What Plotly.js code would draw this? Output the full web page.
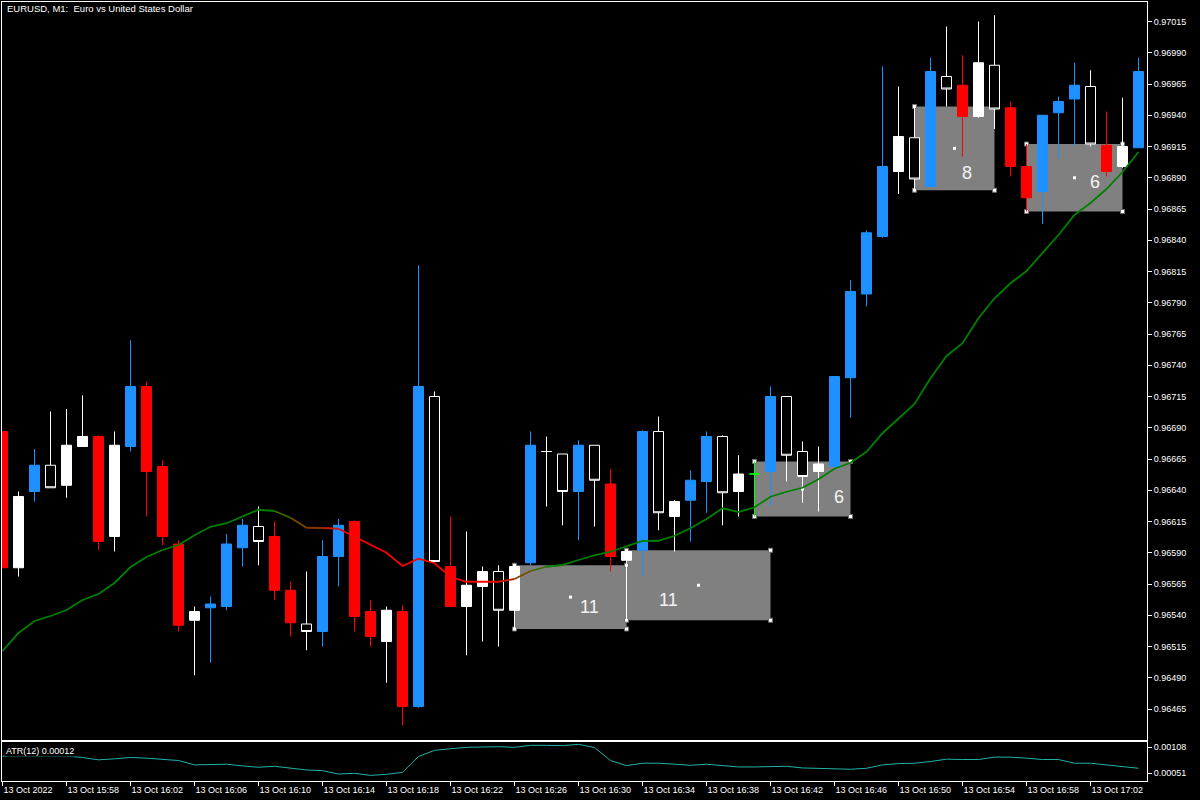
<!DOCTYPE html>
<html><head><meta charset="utf-8">
<script src="https://cdn.plot.ly/plotly-3.0.1.min.js"></script>
<style>html,body{margin:0;padding:0;background:#000;}#chart{width:1200px;height:800px;}</style>
</head><body><div id="chart"></div>
<script>
// ---- data ----
const times = ['15:54','15:55','15:56','15:57','15:58','15:59','16:00','16:01','16:02','16:03','16:04','16:05',
'16:06','16:07','16:08','16:09','16:10','16:11','16:12','16:13','16:14','16:15','16:16','16:17',
'16:18','16:19','16:20','16:21','16:22','16:23','16:24','16:25','16:26','16:27','16:28','16:29',
'16:30','16:31','16:32','16:33','16:34','16:35','16:36','16:37','16:38','16:39','16:40','16:41',
'16:42','16:43','16:44','16:45','16:46','16:47','16:48','16:49','16:50','16:51','16:52','16:53',
'16:54','16:55','16:56','16:57','16:58','16:59','17:00','17:01','17:02','17:03','17:04','17:05'];
const open = [0.96687,0.96578,0.96639,0.96660,0.96644,0.96675,0.96683,0.96603,0.96675,0.96723,0.96659,0.96597,
0.96536,0.96546,0.96547,0.96594,0.96611,0.96603,0.96560,0.96533,0.96527,0.96587,0.96615,0.96543,
0.96519,0.96543,0.96467,0.96715,0.96579,0.96547,0.96563,0.96575,0.96544,0.96582,0.96671,0.96669,
0.96639,0.96676,0.96645,0.96584,0.96592,0.96687,0.96619,0.96632,0.96647,0.96683,0.96639,0.96653,
0.96655,0.96715,0.96671,0.96655,0.96659,0.96730,0.96797,0.96843,0.96895,0.96922,0.96883,0.96971,
0.96964,0.96939,0.96980,0.96946,0.96899,0.96879,0.96942,0.96953,0.96963,0.96916,0.96899,0.96914];
const high = [0.96687,0.96639,0.96673,0.96703,0.96705,0.96716,0.96684,0.96687,0.96760,0.96727,0.96664,0.96600,
0.96547,0.96555,0.96605,0.96617,0.96627,0.96615,0.96567,0.96575,0.96600,0.96617,0.96616,0.96552,
0.96547,0.96548,0.96820,0.96719,0.96619,0.96607,0.96579,0.96580,0.96580,0.96687,0.96683,0.96669,
0.96680,0.96676,0.96657,0.96592,0.96688,0.96699,0.96632,0.96656,0.96687,0.96684,0.96668,0.96663,
0.96723,0.96715,0.96679,0.96675,0.96731,0.96808,0.96848,0.96979,0.96963,0.96947,0.96986,0.97011,
0.96988,0.97015,0.97020,0.96951,0.96917,0.96940,0.96955,0.96982,0.96976,0.96943,0.96954,0.96986];
const low = [0.96578,0.96571,0.96631,0.96642,0.96634,0.96675,0.96592,0.96591,0.96671,0.96619,0.96596,0.96527,
0.96492,0.96502,0.96544,0.96579,0.96580,0.96552,0.96523,0.96512,0.96515,0.96563,0.96527,0.96515,
0.96486,0.96452,0.96466,0.96583,0.96547,0.96508,0.96519,0.96515,0.96529,0.96580,0.96627,0.96612,
0.96600,0.96611,0.96575,0.96536,0.96571,0.96608,0.96591,0.96599,0.96622,0.96612,0.96619,0.96619,
0.96627,0.96647,0.96630,0.96623,0.96659,0.96698,0.96787,0.96842,0.96877,0.96880,0.96883,0.96947,
0.96907,0.96938,0.96929,0.96891,0.96863,0.96853,0.96905,0.96915,0.96915,0.96891,0.96898,0.96914];
const close = [0.96578,0.96635,0.96660,0.96642,0.96676,0.96683,0.96599,0.96676,0.96723,0.96655,0.96603,0.96532,
0.96543,0.96549,0.96597,0.96612,0.96599,0.96560,0.96534,0.96527,0.96587,0.96612,0.96539,0.96523,
0.96544,0.96467,0.96723,0.96583,0.96547,0.96564,0.96575,0.96544,0.96579,0.96676,0.96671,0.96639,
0.96676,0.96648,0.96587,0.96591,0.96687,0.96622,0.96631,0.96648,0.96683,0.96638,0.96653,0.96653,
0.96715,0.96668,0.96651,0.96661,0.96731,0.96799,0.96846,0.96899,0.96923,0.96889,0.96975,0.96961,
0.96939,0.96982,0.96945,0.96899,0.96874,0.96940,0.96951,0.96964,0.96917,0.96895,0.96915,0.96975];
const candleStyle = ['red','white','blue','hollow','white','white','red','white','blue','red','red','red',
'white','blue','blue','blue','hollow','red','red','hollow','blue','blue','red','red',
'white','red','blue','hollow','red','white','white','hollow','white','blue','white','hollow',
'blue','hollow','red','white','blue','hollow','white','blue','blue','hollow','white','lime',
'blue','hollow','hollow','white','blue','blue','blue','blue','white','hollow','blue','hollow',
'red','white','hollow','red','red','blue','blue','blue','hollow','red','white','blue'];
const ma = [0.965114,0.965258,0.965354,0.965394,0.965442,0.965522,0.965570,0.965658,0.965786,0.965866,0.965922,0.965962,
0.966040,0.966108,0.966136,0.966188,0.966244,0.966234,0.966180,0.966100,0.966098,0.966092,0.966028,0.965960,
0.965900,0.965794,0.965852,0.965816,0.965708,0.965668,0.965666,0.965668,0.965690,0.965754,0.965788,0.965802,
0.965842,0.965880,0.965908,0.965948,0.965994,0.965996,0.966036,0.966096,0.966170,0.966256,0.966226,0.966264,
0.966348,0.966388,0.966420,0.966488,0.966572,0.966620,0.966708,0.966856,0.966976,0.967090,0.967296,0.967474,
0.967576,0.967776,0.967936,0.968056,0.968154,0.968300,0.968442,0.968602,0.968698,0.968810,0.968946,0.969106];
// colour index of each MA segment (bar k -> bar k+1)
const maColorIdx = [0,0,0,0,0,0,0,0,0,0,0,0,0,0,0,0,0,1,2,3,4,5,5,5,5,5,5,5,5,5,5,4,2,1,
0,0,0,0,0,0,0,0,0,0,0,0,0,0,0,0,0,0,0,0,0,0,0,0,0,0,0,0,0,0,0,0,0,0,0,0,0];
const atr = [0.000880,0.000880,0.000880,0.000880,0.000880,0.000851,0.000799,0.000821,0.000851,0.000836,0.000814,0.000784,
0.000688,0.000688,0.000703,0.000666,0.000636,0.000658,0.000614,0.000577,0.000562,0.000488,0.000503,0.000458,
0.000481,0.000525,0.000873,0.001006,0.001043,0.001073,0.001080,0.001087,0.001073,0.001117,0.001117,0.001110,
0.001139,0.001070,0.000784,0.000673,0.000725,0.000725,0.000703,0.000680,0.000703,0.000673,0.000643,0.000643,
0.000658,0.000658,0.000621,0.000614,0.000592,0.000592,0.000614,0.000688,0.000717,0.000725,0.000762,0.000814,
0.000806,0.000806,0.000858,0.000858,0.000836,0.000806,0.000806,0.000725,0.000725,0.000688,0.000636,0.000614];
const rectStart = ['16:26','16:33','16:41','16:51','16:58'];
const rectEnd = ['16:33','16:42','16:47','16:56','17:04'];
const rectTop = [0.96580,0.96592,0.96663,0.96947,0.96917];
const rectBottom = [0.96529,0.96536,0.96619,0.96880,0.96863];
const rectLabel = ['11','11','6','8','6'];
const rectLabelTime = ['16:30:40','16:35:36','16:46:17','16:54:17','17:02:17'];
const rectLabelPrice = [0.965466,0.965520,0.966346,0.968938,0.968866];
const xTickTimes = ['15:54','15:58','16:02','16:06','16:10','16:14','16:18','16:22','16:26','16:30','16:34','16:38','16:42','16:46','16:50','16:54','16:58','17:02'];
const xTickText = ['13 Oct 2022','13 Oct 15:58','13 Oct 16:02','13 Oct 16:06','13 Oct 16:10','13 Oct 16:14','13 Oct 16:18','13 Oct 16:22','13 Oct 16:26','13 Oct 16:30','13 Oct 16:34','13 Oct 16:38','13 Oct 16:42','13 Oct 16:46','13 Oct 16:50','13 Oct 16:54','13 Oct 16:58','13 Oct 17:02'];
const priceTicks = [0.96465,0.96490,0.96515,0.96540,0.96565,0.96590,0.96615,0.96640,0.96665,0.96690,0.96715,0.96740,0.96765,0.96790,0.96815,0.96840,0.96865,0.96890,0.96915,0.96940,0.96965,0.96990,0.97015];
const atrTicks = [0.00051,0.00108];
const chartTitle = 'EURUSD, M1:\u00a0 Euro vs United States Dollar';
const atrTitle = 'ATR(12) 0.00012';

// ---- helpers ----
function T(t){const p=t.split(':').map(Number);return Date.UTC(2022,9,13,p[0],p[1])+(p[2]||0)*1000;}
const xs = times.map(T);

const styleDef = {
  red:{fill:'#ff0000',line:'#ff0000'},
  blue:{fill:'#1e90ff',line:'#1e90ff'},
  white:{fill:'#ffffff',line:'#ffffff'},
  hollow:{fill:'#000000',line:'#ffffff'},
  lime:{fill:'#00ff00',line:'#00ff00'}
};
const traces = [];
Object.keys(styleDef).forEach(function(s){
  const idx = candleStyle.map((c,i)=>c===s?i:-1).filter(i=>i>=0);
  if(!idx.length) return;
  const d = styleDef[s];
  traces.push({type:'candlestick',xaxis:'x',yaxis:'y',
    x:idx.map(i=>xs[i]),open:idx.map(i=>open[i]),high:idx.map(i=>high[i]),
    low:idx.map(i=>low[i]),close:idx.map(i=>close[i]),
    increasing:{fillcolor:d.fill,line:{color:d.line,width:1}},
    decreasing:{fillcolor:d.fill,line:{color:d.line,width:1}},
    whiskerwidth:0,hoverinfo:'skip',showlegend:false});
});
// MA coloured segments
const maPalette = ['#008000','#406800','#7a4800','#8b3300','#c02000','#ff0000'];
let k=0;
while(k<maColorIdx.length){
  let e=k; while(e+1<maColorIdx.length && maColorIdx[e+1]===maColorIdx[k]) e++;
  const ids=[]; for(let i=k;i<=e+1;i++) ids.push(i);
  traces.push({type:'scatter',mode:'lines',xaxis:'x',yaxis:'y',
    x:ids.map(i=>xs[i]),y:ids.map(i=>ma[i]),
    line:{color:maPalette[maColorIdx[k]],width:1.8},hoverinfo:'skip',showlegend:false});
  k=e+1;
}
// ATR
traces.push({type:'scatter',mode:'lines',xaxis:'x2',yaxis:'y2',x:xs,y:atr,
  line:{color:'#20b2aa',width:1},hoverinfo:'skip',showlegend:false});

// shapes: rectangles, handles, centre dots
const shapes = [];
rectStart.forEach(function(s,r){
  shapes.push({type:'rect',xref:'x',yref:'y',x0:T(s),x1:T(rectEnd[r]),y0:rectBottom[r],y1:rectTop[r],
    fillcolor:'#808080',line:{width:0},layer:'below'});
});
rectStart.forEach(function(s,r){
  const cx=[T(s),T(rectEnd[r])], cy=[rectTop[r],rectBottom[r]];
  cx.forEach(function(xv){cy.forEach(function(yv){
    shapes.push({type:'rect',xref:'x',yref:'y',xsizemode:'pixel',ysizemode:'pixel',xanchor:xv,yanchor:yv,
      x0:-2,x1:2,y0:-2,y1:2,fillcolor:'#ffffff',line:{color:'#707070',width:1},layer:'below'});
  });});
  const mx=(T(s)+T(rectEnd[r]))/2, my=(rectTop[r]+rectBottom[r])/2;
  shapes.push({type:'rect',xref:'x',yref:'y',xsizemode:'pixel',ysizemode:'pixel',xanchor:mx,yanchor:my,
    x0:-1.5,x1:1.5,y0:-1.5,y1:1.5,fillcolor:'#ffffff',line:{width:0},layer:'below'});
});

const annotations = rectLabel.map(function(t,r){
  return {xref:'x',yref:'y',x:T(rectLabelTime[r]),y:rectLabelPrice[r],text:t,showarrow:false,
    font:{family:'Liberation Sans, Arial, sans-serif',size:18,color:'#f4f4f4'},xanchor:'center',yanchor:'middle'};
});
const H=779;
annotations.push({xref:'paper',yref:'paper',x:3/1145,y:(781-9)/H,text:chartTitle,showarrow:false,
  xanchor:'left',yanchor:'middle',font:{family:'Liberation Sans, Arial, sans-serif',size:9.5,color:'#ffffff'}});
annotations.push({xref:'paper',yref:'paper',x:3/1145,y:(781-751)/H,text:atrTitle,showarrow:false,
  xanchor:'left',yanchor:'middle',bgcolor:'#000000',borderpad:0,font:{family:'Liberation Sans, Arial, sans-serif',size:9,color:'#ffffff'}});

const tickFont = {family:'Liberation Sans, Arial, sans-serif',size:9,color:'#ffffff'};
const xRange = [T('15:53:58.1'),T('17:05:31.9')];
const layout = {
  width:1200,height:800,margin:{l:2,r:53,t:2,b:19},
  paper_bgcolor:'#000000',plot_bgcolor:'#000000',showlegend:false,hovermode:false,
  boxgap:0.375,boxgroupgap:0,
  xaxis:{type:'date',anchor:'y',range:xRange,rangeslider:{visible:false},showline:true,mirror:true,
    linecolor:'#ffffff',linewidth:1,showticklabels:false,ticks:'',showgrid:false,zeroline:false},
  yaxis:{domain:[41/H,1],range:[0.964402,0.970306],side:'right',tickvals:priceTicks,tickformat:'.5f',
    ticks:'outside',ticklen:4,tickcolor:'#ffffff',tickwidth:1,showline:true,mirror:true,linecolor:'#ffffff',linewidth:1,
    showgrid:false,zeroline:false,tickfont:tickFont},
  xaxis2:{type:'date',anchor:'y2',matches:'x',range:xRange,showline:true,mirror:true,linecolor:'#ffffff',linewidth:1,
    tickvals:xTickTimes.map(T),ticktext:xTickText,ticks:'outside',ticklen:4,tickcolor:'#ffffff',tickwidth:1,
    ticklabelposition:'outside right',tickfont:tickFont,showgrid:false,zeroline:false},
  yaxis2:{domain:[0,39/H],range:[0.000335,0.00119],side:'right',tickvals:atrTicks,tickformat:'.5f',
    ticks:'outside',ticklen:4,tickcolor:'#ffffff',tickwidth:1,showline:true,mirror:true,linecolor:'#ffffff',linewidth:1,
    showgrid:false,zeroline:false,tickfont:tickFont},
  shapes:shapes,annotations:annotations
};
Plotly.newPlot('chart',traces,layout,{displayModeBar:false,staticPlot:true});
</script></body></html>
